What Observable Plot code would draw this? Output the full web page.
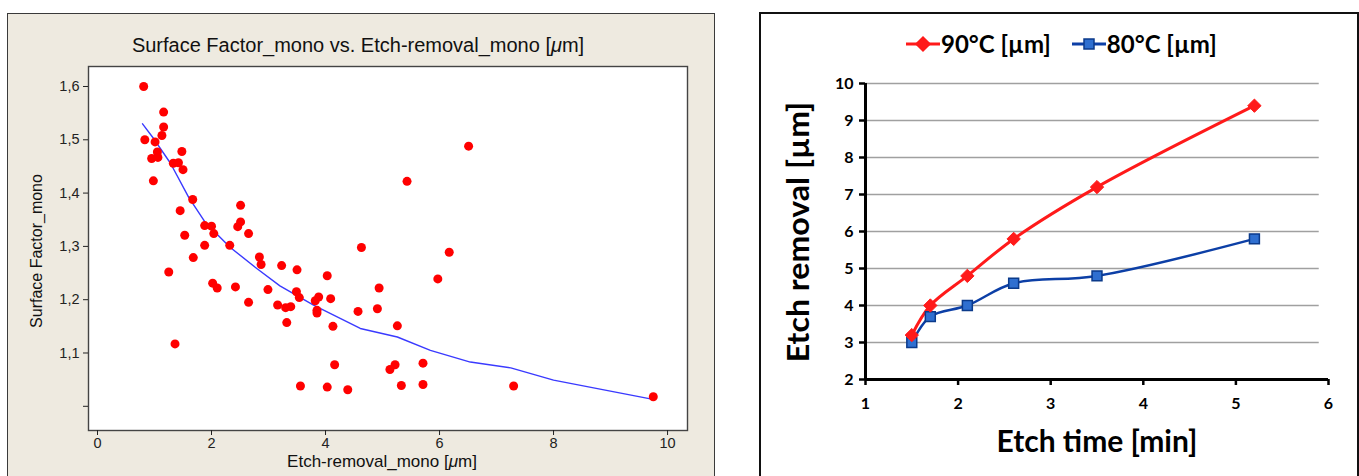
<!DOCTYPE html>
<html><head><meta charset="utf-8">
<script src="https://cdn.jsdelivr.net/npm/d3@7"></script>
<script src="https://cdn.jsdelivr.net/npm/@observablehq/plot@0.6"></script>
<style>
body{margin:0;width:1359px;height:476px;position:relative;overflow:hidden;background:#fff;}
.abs{position:absolute;}
#lp{left:7px;top:13px;width:708px;height:480px;background:#EEEAE0;border:1.5px solid #3a3a3a;box-sizing:border-box;}
#rp{left:759px;top:12px;width:600px;height:480px;background:#fff;border:2.5px solid #111;box-sizing:border-box;}
.lt{font-family:"Liberation Sans",Arial,sans-serif;color:#111;white-space:nowrap;transform:translate(-50%,-50%);}
.rt{font-family:Lato,"Open Sans",sans-serif;font-weight:bold;color:#000;white-space:nowrap;transform:translate(-50%,-50%);}
#leg{left:905px;top:29px;display:flex;align-items:center;font-family:Lato,sans-serif;font-weight:bold;font-size:24px;color:#000;white-space:nowrap;}
#leg span{margin-right:20px;}
</style></head><body>
<div id="lp" class="abs"></div>
<div id="rp" class="abs"></div>
<div class="abs lt" style="left:358px;top:45px;font-size:20px;">Surface Factor_mono vs. Etch-removal_mono [<i>μ</i>m]</div>
<div class="abs lt" style="left:37px;top:251px;font-size:16px;transform:translate(-50%,-50%) rotate(-90deg);">Surface Factor_mono</div>
<div class="abs lt" style="left:382px;top:462px;font-size:17px;">Etch-removal_mono [<i>μ</i>m]</div>
<div id="left" class="abs" style="left:8px;top:14px;"></div>
<div id="right" class="abs" style="left:762px;top:14px;"></div>
<div id="leg" class="abs"></div>
<div class="abs rt" style="left:797px;top:232px;font-size:30px;transform:translate(-50%,-50%) rotate(-90deg) scaleX(1.07);">Etch removal [µm]</div>
<div class="abs rt" style="left:1097px;top:440px;font-size:30px;">Etch time [min]</div>
<script>
// ---- Left chart data ----
const scatterX = [0.81,1.16,1.16,1.13,0.83,1.01,1.05,1.48,0.95,1.06,1.33,1.42,1.50,0.98,1.67,1.45,2.51,1.88,2.00,2.51,2.46,2.04,2.65,1.53,1.88,2.32,1.68,2.84,2.87,1.25,2.02,2.10,2.42,2.99,2.65,1.36,
  6.51,5.43,4.63,6.17,5.97,3.23,3.50,4.03,3.49,3.54,3.16,3.30,3.39,3.32,3.88,3.82,3.85,3.85,4.09,4.13,4.57,4.94,4.91,5.26,4.16,5.13,5.22,5.71,3.56,4.03,4.39,5.33,5.71,7.30,9.75];
const scatterY = [1.600,1.552,1.524,1.508,1.500,1.496,1.477,1.478,1.465,1.467,1.456,1.457,1.444,1.423,1.388,1.367,1.377,1.339,1.338,1.346,1.337,1.324,1.324,1.321,1.302,1.302,1.279,1.280,1.266,1.252,1.231,1.222,1.224,1.219,1.195,1.117,
  1.488,1.422,1.298,1.289,1.239,1.264,1.256,1.245,1.215,1.204,1.190,1.185,1.187,1.157,1.205,1.198,1.180,1.175,1.202,1.150,1.178,1.222,1.183,1.151,1.078,1.069,1.078,1.081,1.038,1.036,1.031,1.039,1.041,1.038,1.018];
const fitX = [0.79,1.0,1.28,1.6,1.89,2.33,2.8,3.2,3.79,4.61,5.26,5.84,6.54,7.25,8.0,9.7];
const fitY = [1.530,1.500,1.456,1.392,1.345,1.298,1.258,1.226,1.190,1.146,1.130,1.105,1.083,1.072,1.049,1.014];
const leftXTicks = [0,2,4,6,8,10];
const leftYTicks = [1.0,1.1,1.2,1.3,1.4,1.5,1.6];

// ---- Right chart data ----
const etchTime = [1.5,1.7,2.1,2.6,3.5,5.2];
const removal90 = [3.2,4.0,4.8,5.8,7.2,9.4];
const removal80 = [3.0,3.7,4.0,4.6,4.8,5.8];
const seriesNames = ["90°C [µm]","80°C [µm]"];
const rightXTicks = [1,2,3,4,5,6];
const rightYTicks = [2,3,4,5,6,7,8,9,10];

const scatter = scatterX.map((x,i)=>({x, y:scatterY[i]}));
const fit = fitX.map((x,i)=>({x, y:fitY[i]}));

const left = Plot.plot({
  width:705, height:450, marginLeft:80, marginRight:26, marginTop:52, marginBottom:34,
  x:{domain:[-0.158,10.35]}, y:{domain:[0.9546,1.6375]},
  style:{fontFamily:"'Liberation Sans',Arial,sans-serif", fontSize:"14.5px", background:"transparent", color:"#222"},
  marks:[
    Plot.frame({fill:"#fff", stroke:"#444", strokeWidth:1.4}),
    Plot.axisX({ticks:leftXTicks, tickSize:5, tickPadding:2, label:null}),
    Plot.axisY({ticks:leftYTicks, tickSize:5, tickPadding:4, label:null,
      tickFormat:d=> Math.abs(d-1)<1e-9 ? "" : d.toFixed(1).replace(".",",")}),
    Plot.line(fit,{x:"x", y:"y", stroke:"#3a3aff", strokeWidth:1.4}),
    Plot.dot(scatter,{x:"x", y:"y", r:4.5, fill:"#ff0000"})
  ]
});
document.getElementById("left").appendChild(left);

const d90 = etchTime.map((t,i)=>({t, v:removal90[i]}));
const d80 = etchTime.map((t,i)=>({t, v:removal80[i]}));
const red = "#ff1a1a", blueLine = "#0c3fa6", blueFill = "#2f6fd0";

const right = Plot.plot({
  width:594, height:460, marginLeft:103, marginRight:28, marginTop:69, marginBottom:95,
  x:{domain:[1,6]}, y:{domain:[2,10]},
  style:{fontFamily:"Lato,'Open Sans',sans-serif", fontWeight:"bold", fontSize:"16px", background:"transparent", color:"#000"},
  marks:[
    Plot.ruleY(rightYTicks.slice(1),{x1:1, x2:5.9, stroke:"#a0a0a0", strokeWidth:1.3}),
    Plot.axisX({ticks:rightXTicks, tickSize:6, tickPadding:12, strokeWidth:2.5, label:null, tickFormat:d=>String(d)}),
    Plot.axisY({ticks:rightYTicks, tickSize:6, tickPadding:6, strokeWidth:2.5, label:null, tickFormat:d=>String(d)}),
    Plot.ruleX([1],{y1:2, y2:10, stroke:"#000", strokeWidth:3}),
    Plot.ruleY([2],{x1:1, x2:6, stroke:"#000", strokeWidth:3}),
    Plot.line(d80,{x:"t", y:"v", stroke:blueLine, strokeWidth:2.5, curve:"catmull-rom"}),
    Plot.line(d90,{x:"t", y:"v", stroke:red, strokeWidth:3, curve:"catmull-rom"}),
    Plot.dot(d80,{x:"t", y:"v", symbol:"square", r:5.6, fill:blueFill, stroke:"#0b3a8a", strokeWidth:1.5}),
    Plot.dot(d90,{x:"t", y:"v", symbol:"diamond2", r:6, fill:red, stroke:red, strokeWidth:1})
  ]
});
document.getElementById("right").appendChild(right);

// legend
const leg = document.getElementById("leg");
const sw = (color, shape) => {
  const ns = "http://www.w3.org/2000/svg";
  const s = document.createElementNS(ns,"svg");
  s.setAttribute("width","36"); s.setAttribute("height","22");
  const l = document.createElementNS(ns,"line");
  l.setAttribute("x1","1"); l.setAttribute("x2","35"); l.setAttribute("y1","11"); l.setAttribute("y2","11");
  l.setAttribute("stroke", color); l.setAttribute("stroke-width","3");
  s.appendChild(l);
  const p = document.createElementNS(ns,"path");
  p.setAttribute("d", shape==="diamond" ? "M18,4L25,11L18,18L11,11Z" : "M13,6H23V16H13Z");
  p.setAttribute("fill", shape==="diamond" ? red : blueFill);
  p.setAttribute("stroke", shape==="diamond" ? red : "#0b3a8a");
  p.setAttribute("stroke-width","1.5");
  s.appendChild(p);
  return s;
};
leg.appendChild(sw(red,"diamond"));
let t1 = document.createElement("span"); t1.textContent = seriesNames[0]; leg.appendChild(t1);
leg.appendChild(sw(blueLine,"square"));
let t2 = document.createElement("span"); t2.textContent = seriesNames[1]; leg.appendChild(t2);
</script>
</body></html>
